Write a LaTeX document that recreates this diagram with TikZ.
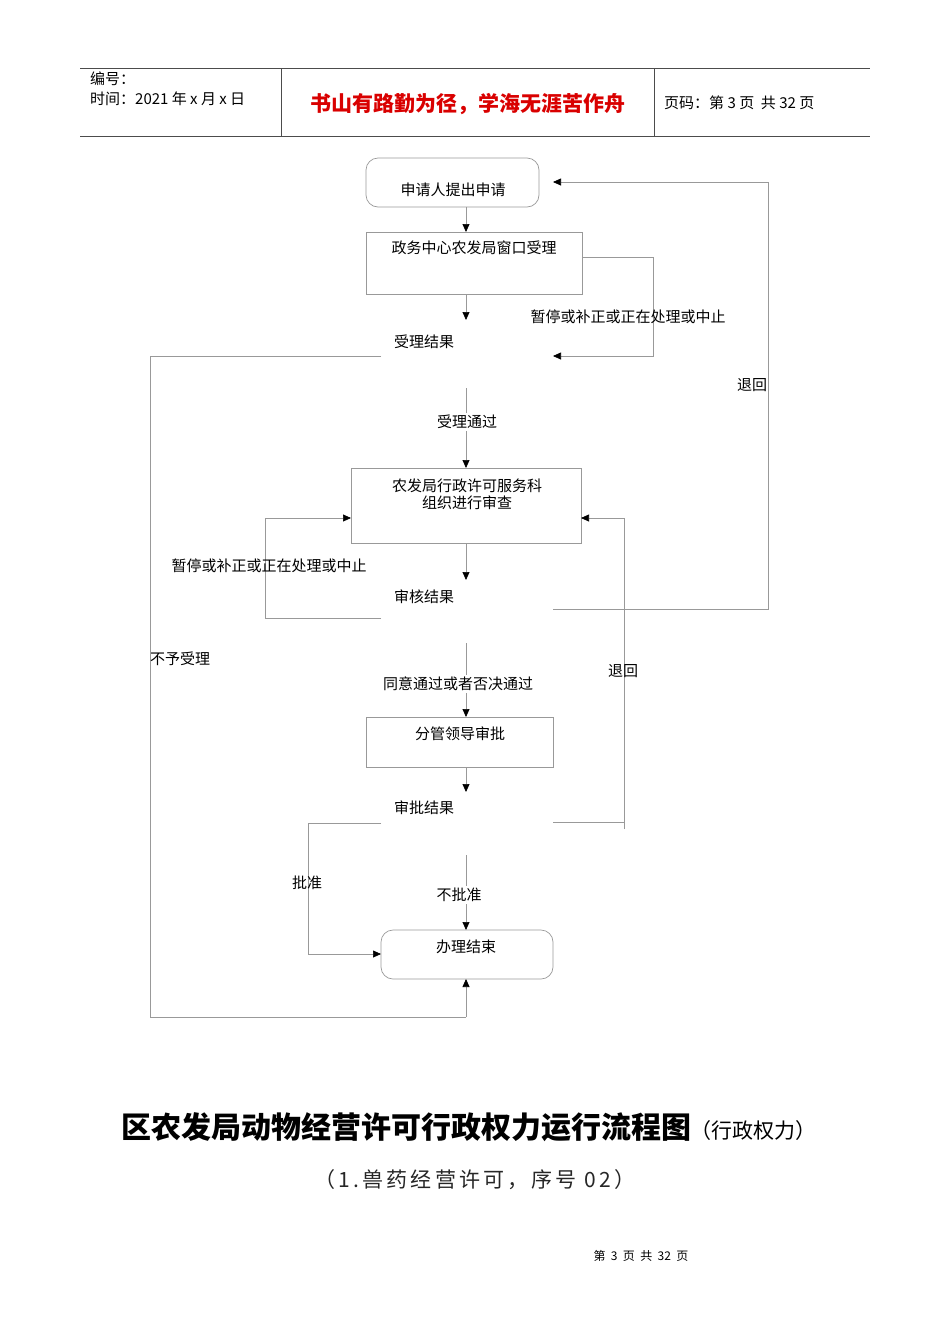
\documentclass[tikz,border=0pt]{standalone}
\usepackage{fontspec}
\setmainfont{Noto Sans CJK SC}
\usetikzlibrary{arrows.meta}
\begin{document}
\begin{tikzpicture}[x=1pt,y=-1pt,
  ln/.style={draw=black!40,line width=0.7pt},
  ar/.style={ln,-{Triangle[length=8pt,width=7pt,color=black,fill=black]}},
  bx/.style={draw=black!40,line width=0.7pt,inner sep=0},
  rbx/.style={bx,rounded corners=12pt},
  t/.style={inner sep=0,font=\fontsize{15}{17}\selectfont},
  hd/.style={inner sep=0,font=\fontsize{15}{17}\selectfont,anchor=west}]
\useasboundingbox (0,0) rectangle (950,1344);
% header
\draw[black!70,line width=0.8pt] (80,68) -- (870,68) (80,136) -- (870,136) (281,68) -- (281,136) (654,68) -- (654,136);
\node[hd] (h1) at (90,79) {编号：};
\node[hd] (h2) at (90,99) {时间：2021 年 x 月 x 日};
\node[inner sep=0,font=\fontsize{21}{23}\selectfont\bfseries,text=red!85!black] (h3) at (468,104) {书山有路勤为径，学海无涯苦作舟};
\node[hd] (h4) at (664,103) {页码：第 3 页 \ 共 32 页};
% boxes
\draw[rbx] (366,158) rectangle (539,207);
\node[t] (s) at (453,190) {申请人提出申请};
\draw[bx] (366,232) rectangle (582,294);
\node[t] (b2) at (474,248) {政务中心农发局窗口受理};
\node[t] (r1) at (424,342) {受理结果};
\draw[bx] (351,468) rectangle (581,543);
\node[t,align=center] (b3) at (467,494) {农发局行政许可服务科\\组织进行审查};
\node[t] (r2) at (424,597) {审核结果};
\draw[bx] (366,717) rectangle (553,767);
\node[t] (b4) at (460,734) {分管领导审批};
\node[t] (r3) at (424,808) {审批结果};
\draw[rbx] (381,930) rectangle (553,979);
\node[t] (e) at (466,947) {办理结束};
% arrows
\draw[ar] (466,207) -- (466,232);
\draw[ar] (466,294) -- (466,320);
\draw[ln] (381,356) -- (150,356) -- (150,1017) -- (466,1017);
\draw[ar] (466,1017) -- (466,979);
\draw[ar] (582,257) -- (653,257) -- (653,356) -- (553,356);
\node[t] (l1) at (628,317) {暂停或补正或正在处理或中止};
\draw[ar] (553,609) -- (768,609) -- (768,182) -- (553,182);
\node[t] (l2) at (752,385) {退回};
\draw[ar] (466,388) -- (466,468);
\node[t,fill=white,inner sep=2pt] (l3) at (467,422) {受理通过};
\draw[ar] (466,543) -- (466,580);
\draw[ar] (381,618) -- (265,618) -- (265,518) -- (351,518);
\node[t] (l4) at (269,566) {暂停或补正或正在处理或中止};
\draw[ar] (466,643) -- (466,717);
\node[t,fill=white,inner sep=2pt] (l5) at (458,684) {同意通过或者否决通过};
\draw[ar] (466,767) -- (466,792);
\draw[ln] (553,822) -- (624,822);
\draw[ar] (624,829) -- (624,518) -- (581,518);
\node[t] (l6) at (623,671) {退回};
\draw[ar] (381,823) -- (308,823) -- (308,954) -- (381,954);
\node[t] (l7) at (307,883) {批准};
\draw[ar] (466,855) -- (466,930);
\node[t,fill=white,inner sep=2pt] (l8) at (459,895) {不批准};
\node[t] (l9) at (180,659) {不予受理};
% titles
\node[inner sep=0] (ti) at (469,1127) {{\fontsize{30}{32}\selectfont\bfseries 区农发局动物经营许可行政权力运行流程图}{\fontsize{21}{23}\selectfont（行政权力）}};
\node[inner sep=0,font=\fontsize{21}{23}\selectfont\addfontfeatures{LetterSpace=15},text=black!85] (st) at (475,1180) {（1.兽药经营许可，序号 02）};
\node[inner sep=0,font=\fontsize{12}{14}\selectfont] (ft) at (641,1256) {第 \ 3 \ 页 \ 共 \ 32 \ 页};
\end{tikzpicture}
\end{document}
